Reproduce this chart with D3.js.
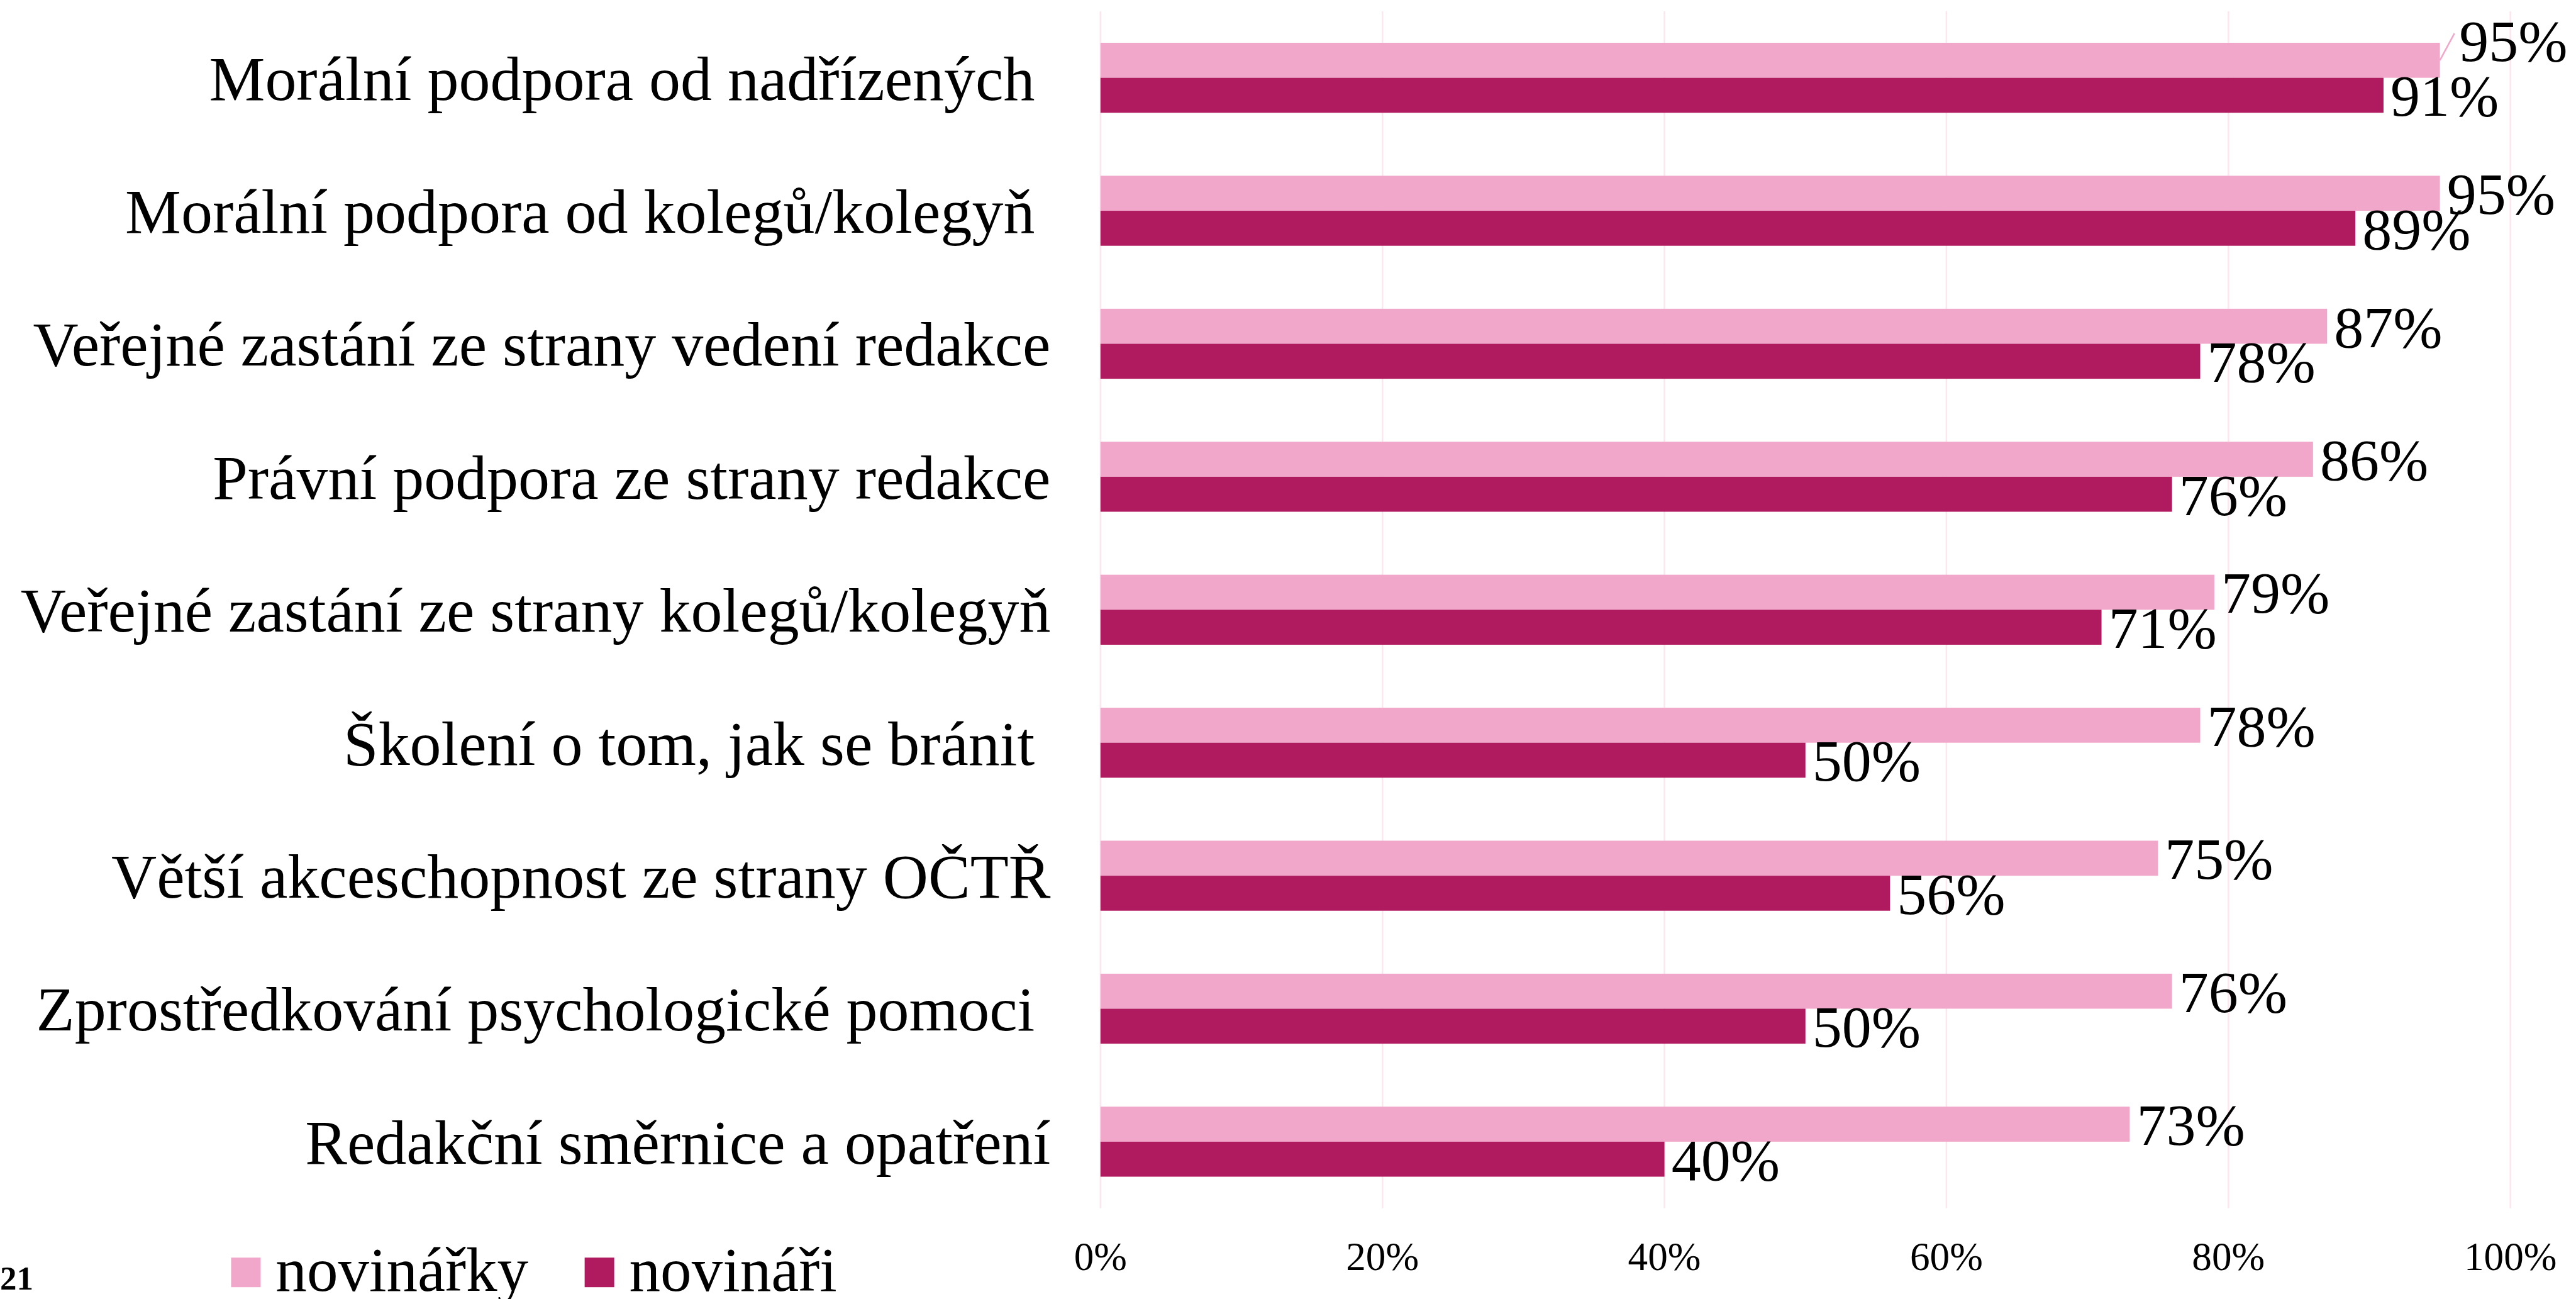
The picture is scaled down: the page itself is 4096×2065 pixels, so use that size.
<html>
<head>
<meta charset="utf-8" />
<script src="https://d3js.org/d3.v7.min.js"></script>
<style>
  body { margin: 0; background: #fff; }
  svg text { font-family: "Liberation Serif", "DejaVu Serif", serif; fill: #000; white-space: pre; }
</style>
</head>
<body>
<svg id="chart" width="4096" height="2065" viewBox="0 0 4794 2417"></svg>
<script>
// data
const categories = [
  "Morální podpora od nadřízených ",
  "Morální podpora od kolegů/kolegyň ",
  "Veřejné zastání ze strany vedení redakce",
  "Právní podpora ze strany redakce",
  "Veřejné zastání ze strany kolegů/kolegyň",
  "Školení o tom, jak se bránit ",
  "Větší akceschopnost ze strany OČTŘ",
  "Zprostředkování psychologické pomoci ",
  "Redakční směrnice a opatření"
]
const series = ["novinářky", "novináři"]
const novinarky = [0.95, 0.95, 0.87, 0.86, 0.79, 0.78, 0.75, 0.76, 0.73]
const novinari = [0.91, 0.89, 0.78, 0.76, 0.71, 0.50, 0.56, 0.50, 0.40]
const ticks = [0, 0.2, 0.4, 0.6, 0.8, 1.0]
const colors = ["#f1a7c9", "#b01a5e"]

const svg = d3.select("#chart")

const x = d3.scaleLinear().domain([0, 1]).range([2048, 4672])
const y = d3.scaleBand().domain(categories).range([21, 2248])
const y1 = d3.scaleBand().domain(series).range([0, y.bandwidth()]).paddingOuter(0.9)

// gridlines
svg.append("g").selectAll("line").data(ticks).enter()
  .append("line")
  .attr("x1", d => x(d)).attr("x2", d => x(d))
  .attr("y1", 21).attr("y2", 2248)
  .attr("stroke", "#fce6ef").attr("stroke-width", 3)

// x axis labels
const fmt = d3.format(".0%")
svg.append("g").selectAll("text").data(ticks).enter()
  .append("text")
  .attr("x", d => x(d)).attr("y", 2363)
  .attr("text-anchor", "middle")
  .attr("font-size", 74)
  .text(d => fmt(d))

// category labels
svg.append("g").selectAll("text").data(categories).enter()
  .append("text")
  .attr("x", 1955)
  .attr("y", d => y(d) + y.bandwidth() / 2)
  .attr("dy", "0.35em")
  .attr("text-anchor", "end")
  .attr("font-size", 117)
  .text(d => d)

const rows = categories.map((c, i) => ({ c, vals: [novinarky[i], novinari[i]] }))

const groups = svg.append("g").selectAll("g").data(rows).enter()
  .append("g")
  .attr("transform", d => `translate(0,${y(d.c)})`)

groups.selectAll("rect").data(d => d.vals.map((v, k) => ({ v, s: series[k], k }))).enter()
  .append("rect")
  .attr("x", x(0))
  .attr("y", d => y1(d.s))
  .attr("width", d => x(d.v) - x(0))
  .attr("height", y1.bandwidth())
  .attr("fill", d => colors[d.k])

// value labels
groups.each(function (row, i) {
  const g = d3.select(this)
  row.vals.forEach((v, k) => {
    const cy = y1(series[k]) + y1.bandwidth() / 2
    let tx = x(v) + 13
    let ty = cy
    if (i === 0 && k === 0) {
      // label lifted above the bar with a leader line
      g.append("line")
        .attr("x1", x(v)).attr("y1", cy)
        .attr("x2", x(v) + 27).attr("y2", cy - 50)
        .attr("stroke", colors[0]).attr("stroke-width", 3)
      tx = x(v) + 36
      ty = cy - 37
    }
    g.append("text")
      .attr("x", tx).attr("y", ty)
      .attr("dy", "0.35em")
      .attr("font-size", 110)
      .text(fmt(v))
  })
})

// legend
const legend = svg.append("g").selectAll("g").data(series).enter()
  .append("g")
  .attr("transform", (d, i) => `translate(${[430, 1088][i]},0)`)
legend.append("rect")
  .attr("x", 0).attr("y", 2340)
  .attr("width", 55).attr("height", 55)
  .attr("fill", (d, i) => colors[i])
legend.append("text")
  .attr("x", 83).attr("y", 2402)
  .attr("font-size", 116)
  .text(d => d)

// cut-off page number at the left edge
svg.append("text")
  .attr("x", 0).attr("y", 2400)
  .attr("font-size", 62)
  .attr("font-weight", "bold")
  .text("21")
</script>
</body>
</html>
